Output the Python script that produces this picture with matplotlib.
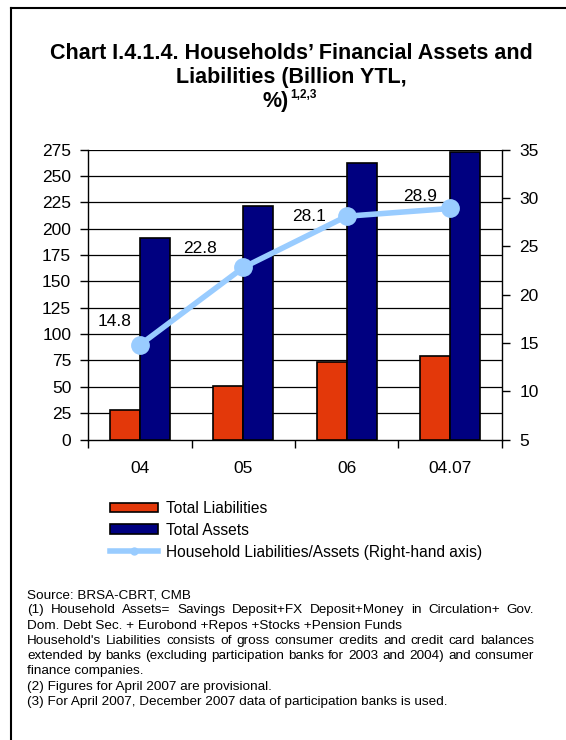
import matplotlib
matplotlib.use("Agg")
import matplotlib.pyplot as plt
import numpy as np
from matplotlib.patches import Patch
from matplotlib.lines import Line2D

plt.rcParams['font.family'] = ['Liberation Sans', 'DejaVu Sans']

categories = ["04", "05", "06", "04.07"]
liabilities = [28.0, 50.5, 73.6, 78.9]
assets = [190.9, 221.1, 262.6, 272.3]
ratio = [14.8, 22.8, 28.1, 28.9]
left_ticks = list(range(0, 276, 25))
right_ticks = list(range(5, 36, 5))

title_lines = ["Chart I.4.1.4. Households\u2019 Financial Assets and",
               "Liabilities (Billion YTL,"]
title_tail = "%)"
title_sup = "1,2,3"
notes = [
    ("Source: BRSA-CBRT, CMB", False),
    ("(1) Household Assets= Savings Deposit+FX Deposit+Money in Circulation+ Gov.", True),
    ("Dom. Debt Sec. + Eurobond +Repos +Stocks +Pension Funds", False),
    ("Household's Liabilities consists of gross consumer credits and credit card balances", True),
    ("extended by banks (excluding participation banks for 2003 and 2004) and consumer", True),
    ("finance companies.", False),
    ("(2) Figures for April 2007 are provisional.", False),
    ("(3) For April 2007, December 2007 data of participation banks is used.", False),
]

RED = "#E3380A"
NAVY = "#000080"
LIGHT = "#99CCFF"

W, H = 566, 740
fig = plt.figure(figsize=(W / 100, H / 100), dpi=100)


def fx(px):
    return px / W


def fy(px):
    return 1 - px / H


# frame lines (left and top)
fig.add_artist(Line2D([fx(11), fx(11)], [0, fy(8)], color="black", lw=1.5, transform=fig.transFigure))
fig.add_artist(Line2D([fx(11), 1], [fy(8), fy(8)], color="black", lw=1.5, transform=fig.transFigure))

# title
for txt, base in zip(title_lines, [59, 83]):
    fig.text(fx(291), fy(base), txt, ha="center", va="baseline", fontsize=15.5, fontweight="bold")
fig.text(fx(289), fy(107), title_tail, ha="right", va="baseline", fontsize=15.5, fontweight="bold")
fig.text(fx(290), fy(98), title_sup, ha="left", va="baseline", fontsize=8.5, fontweight="bold")

x0, x1, y0, y1 = 88.3, 501.7, 439.6, 149.5
ax = fig.add_axes([fx(x0), fy(y0), (x1 - x0) / W, (y0 - y1) / H])
x = np.arange(len(categories))
bw = 0.29
ax.bar(x - bw / 2, liabilities, bw, color=RED, edgecolor="black", linewidth=1.2, zorder=3)
ax.bar(x + bw / 2, assets, bw, color=NAVY, edgecolor="black", linewidth=1.2, zorder=3)
for t in left_ticks[1:]:
    ax.axhline(t, color="black", lw=0.9, zorder=1)
ax.set_ylim(0, 275)
ax.set_xlim(-0.5, len(categories) - 0.5)
ax.set_yticks(left_ticks)
ax.set_xticks(np.arange(-0.5, len(categories), 1.0))
ax.set_xticklabels([])
ax.set_xticks(x, minor=True)
ax.set_xticklabels(categories, minor=True)
ax.tick_params(axis="x", which="major", length=6, width=1, direction="out")
ax.tick_params(axis="x", which="minor", length=0, pad=15.5, labelsize=12.5)
ax.tick_params(axis="y", length=5.5, width=1, direction="out", pad=6.8, labelsize=12.5)
for s in ["top", "right"]:
    ax.spines[s].set_visible(False)
for s in ["left", "bottom"]:
    ax.spines[s].set_linewidth(1)

ax2 = ax.twinx()
ax2.plot(x, ratio, color=LIGHT, lw=4, marker="o", markersize=12.5, zorder=5,
         solid_capstyle="round")
ax2.set_ylim(5, 35)
ax2.set_yticks(right_ticks)
ax2.tick_params(axis="y", length=5.5, width=1, direction="out", pad=7.2, labelsize=12.5)
for s in ["top", "left", "bottom"]:
    ax2.spines[s].set_visible(False)
ax2.spines["right"].set_linewidth(1)

offsets = [(-18, 17), (-31, 14), (-27, 0), (-21.5, 8.5)]
for xi, v, off in zip(x, ratio, offsets):
    ax2.annotate(f"{v:.1f}", (xi, v), xytext=off, textcoords="offset points",
                 ha="center", va="center", fontsize=12.5, zorder=6)

handles = [
    Patch(facecolor=RED, edgecolor="black", linewidth=1.2),
    Patch(facecolor=NAVY, edgecolor="black", linewidth=1.2),
    Line2D([], [], color=LIGHT, lw=4, marker="o", markersize=5),
]
labels = ["Total Liabilities", "Total Assets", "Household Liabilities/Assets (Right-hand axis)"]
fig.legend(handles, labels, loc="upper left", bbox_to_anchor=(fx(110), fy(501)),
           frameon=False, fontsize=11.2, handlelength=3.1, handleheight=0.6,
           handletextpad=0.5, labelspacing=0.44, borderpad=0, borderaxespad=0)

# footnotes, with justified lines spread across the block width
fs = 9.7
left_px, right_px = 27, 534
line_y = 595
step = 15.3
fig.canvas.draw()
renderer = fig.canvas.get_renderer()
for txt, justify in notes:
    yf = fy(line_y)
    if not justify:
        fig.text(fx(left_px), yf, txt, ha="left", va="center", fontsize=fs)
    else:
        words = txt.split(" ")
        arts = [fig.text(0, yf, w, ha="left", va="center", fontsize=fs) for w in words]
        widths = [a.get_window_extent(renderer).width for a in arts]
        gap = (right_px - left_px - sum(widths)) / (len(words) - 1)
        pos = left_px
        for a, w in zip(arts, widths):
            a.set_x(fx(pos))
            pos += w + gap
    line_y += step

fig.savefig("out.png", dpi=100)
